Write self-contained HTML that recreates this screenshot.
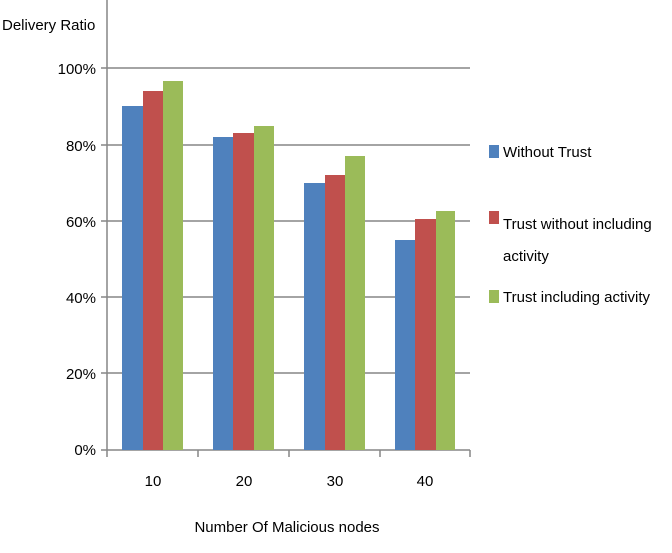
<!DOCTYPE html><html><head><style>body{margin:0;background:#fff}</style></head><body>
<svg width="672" height="548" xmlns="http://www.w3.org/2000/svg" font-family="Liberation Sans, sans-serif" font-size="15" fill="#000">
<g stroke="#868686" stroke-width="1.5">
<line x1="101" y1="68" x2="470" y2="68"/><line x1="101" y1="145" x2="470" y2="145"/><line x1="101" y1="221" x2="470" y2="221"/><line x1="101" y1="297" x2="470" y2="297"/><line x1="101" y1="373" x2="470" y2="373"/>
<line x1="107" y1="0" x2="107" y2="450"/>
<line x1="101" y1="450" x2="470" y2="450"/>
<line x1="107" y1="450" x2="107" y2="457"/><line x1="198" y1="450" x2="198" y2="457"/><line x1="289" y1="450" x2="289" y2="457"/><line x1="380" y1="450" x2="380" y2="457"/><line x1="470" y1="450" x2="470" y2="457"/>
</g>
<g fill="#4f81bd"><rect x="122" y="106" width="21" height="344"/><rect x="213" y="137" width="20" height="313"/><rect x="304" y="183" width="21" height="267"/><rect x="395" y="240" width="20" height="210"/></g>
<g fill="#c0504d"><rect x="143" y="91" width="20" height="359"/><rect x="233" y="133" width="21" height="317"/><rect x="325" y="175" width="20" height="275"/><rect x="415" y="219" width="21" height="231"/></g>
<g fill="#9bbb59"><rect x="163" y="81" width="20" height="369"/><rect x="254" y="126" width="20" height="324"/><rect x="345" y="156" width="20" height="294"/><rect x="436" y="211" width="19" height="239"/></g>
<g text-anchor="end"><text x="96" y="74">100%</text><text x="96" y="151">80%</text><text x="96" y="227">60%</text><text x="96" y="303">40%</text><text x="96" y="379">20%</text><text x="96" y="455">0%</text></g>
<g text-anchor="middle"><text x="153" y="486">10</text><text x="244" y="486">20</text><text x="335" y="486">30</text><text x="425" y="486">40</text>
<text x="287" y="532">Number Of Malicious nodes</text></g>
<text x="2" y="30">Delivery Ratio</text>
<rect x="489" y="145" width="10" height="13" fill="#4f81bd"/><text x="503" y="157">Without Trust</text>
<rect x="489" y="211" width="10" height="13" fill="#c0504d"/><text x="503" y="229">Trust without  including</text><text x="503" y="261">activity</text>
<rect x="489" y="290" width="10" height="13" fill="#9bbb59"/><text x="503" y="302">Trust including activity</text>
</svg></body></html>
